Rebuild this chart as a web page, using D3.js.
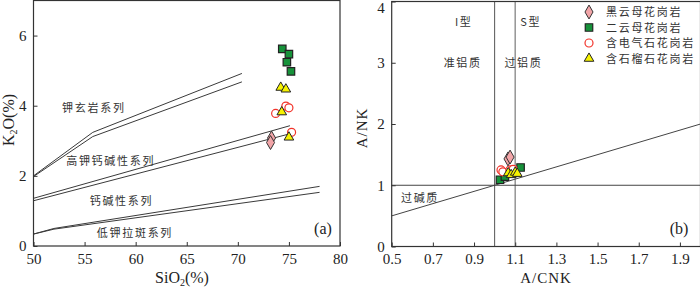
<!DOCTYPE html>
<html>
<head>
<meta charset="utf-8">
<script src="https://cdn.jsdelivr.net/npm/d3@7"></script>
<style>
  body { margin: 0; background: #fff; }
  svg text { font-family: "Liberation Serif", "DejaVu Serif", serif; fill: #222; }
  svg text.cn { font-family: "Noto Sans CJK SC", sans-serif; font-size: 11px; letter-spacing: 1.7px; fill: #333; }
</style>
</head>
<body>
<svg id="chart" width="700" height="287"></svg>
<script>
// ---- panel (a) data : SiO2 vs K2O ----
var aXTicks = [50, 55, 60, 65, 70, 75, 80];
var aYTicks = [0, 2, 4, 6];
// boundary lines, each a polyline [SiO2, K2O]
var aLines = [
  [[50, 2.0], [55.8, 3.24], [70.4, 4.92]],
  [[50, 1.98], [55.8, 3.12], [70.4, 4.68]],
  [[50, 1.36], [75.1, 3.43]],
  [[50, 1.29], [75.1, 3.2]],
  [[50, 0.34], [52, 0.5], [78, 1.7]],
  [[50, 0.34], [52, 0.48], [78, 1.53]]
];
var aSeriesLabels = [
  {text: "钾玄岩系列", x: 52.8, y: 3.83},
  {text: "高钾钙碱性系列", x: 53.2, y: 2.31},
  {text: "钙碱性系列", x: 55.5, y: 1.17},
  {text: "低钾拉斑系列", x: 56.2, y: 0.26}
];
var aBiotite = [[73.3, 3.08], [73.2, 2.95]];
var aTwoMica = [[74.35, 5.62], [75.0, 5.47], [74.8, 5.24], [75.2, 4.98]];
var aTourmaline = [[73.7, 3.78], [74.7, 3.99], [75.0, 3.94], [75.26, 3.24]];
var aGarnet = [[74.2, 4.52], [74.7, 4.47], [74.3, 3.82], [75.0, 3.1]];

// ---- panel (b) data : A/CNK vs A/NK ----
var bXTicks = [0.5, 0.7, 0.9, 1.1, 1.3, 1.5, 1.7, 1.9];
var bYTicks = [0, 1, 2, 3, 4];
var bBiotite = [[1.065, 1.43], [1.075, 1.46]];
var bTwoMica = [[1.026, 1.09], [1.05, 1.14], [1.09, 1.2], [1.126, 1.29]];
var bTourmaline = [[1.031, 1.25], [1.04, 1.22], [1.074, 1.25], [1.09, 1.26]];
var bGarnet = [[1.066, 1.2], [1.08, 1.17], [1.10, 1.21], [1.11, 1.19]];

var legendNames = ["黑云母花岗岩", "二云母花岗岩", "含电气石花岗岩", "含石榴石花岗岩"];

var svg = d3.select("#chart");

var symDiamond = d3.symbol().type(d3.symbolDiamond).size(56);
var symSquare = d3.symbol().type(d3.symbolSquare).size(56);
var symTriangle = d3.symbol().type(d3.symbolTriangle).size(40);

var styles = [
  {sym: symDiamond, fill: "#f2a5a8", stroke: "#333", w: 1},
  {sym: symSquare, fill: "#16923a", stroke: "#222", w: 1.2},
  {sym: null, fill: "#fff", stroke: "#f2332a", w: 1.2},
  {sym: symTriangle, fill: "#f6f200", stroke: "#222", w: 1}
];

function drawPoints(g, x, y, data, st) {
  var sel = g.append("g").selectAll("x").data(data).enter();
  if (st.sym) {
    sel.append("path")
      .attr("d", st.sym)
      .attr("transform", function(d) { return "translate(" + x(d[0]) + "," + y(d[1]) + ")"; })
      .attr("fill", st.fill).attr("stroke", st.stroke).attr("stroke-width", st.w);
  } else {
    sel.append("circle")
      .attr("cx", function(d) { return x(d[0]); })
      .attr("cy", function(d) { return y(d[1]); })
      .attr("r", 4)
      .attr("fill", st.fill).attr("stroke", st.stroke).attr("stroke-width", st.w);
  }
}

function frameAndAxes(g, x, y, xt, yt, fmtX) {
  var w = x.range()[1] - x.range()[0], h = y.range()[0] - y.range()[1];
  g.append("rect").attr("x", x.range()[0]).attr("y", y.range()[1])
    .attr("width", w).attr("height", h)
    .attr("fill", "none").attr("stroke", "#333").attr("stroke-width", 1.2);
  var xa = g.append("g").attr("transform", "translate(0," + y.range()[0] + ")")
    .call(d3.axisBottom(x).tickValues(xt).tickSizeInner(-4).tickSizeOuter(0).tickPadding(7).tickFormat(fmtX));
  var ya = g.append("g").attr("transform", "translate(" + x.range()[0] + ",0)")
    .call(d3.axisLeft(y).tickValues(yt).tickSizeInner(-4).tickSizeOuter(0).tickPadding(7).tickFormat(d3.format("d")));
  [xa, ya].forEach(function(a) {
    a.select(".domain").remove();
    a.selectAll("line").attr("stroke", "#333");
    a.selectAll("text").attr("font-size", 15).attr("font-family", "Liberation Serif").attr("fill", "#222");
  });
  return ya;
}

// ================= panel (a) =================
var ax = d3.scaleLinear().domain([50, 80]).range([33.5, 340]);
var ay = d3.scaleLinear().domain([0, 7]).range([246, 0.5]);
var ga = svg.append("g");

var line = d3.line();
ga.append("g").selectAll("path").data(aLines).enter().append("path")
  .attr("d", function(d) { return line(d.map(function(p) { return [ax(p[0]), ay(p[1])]; })); })
  .attr("fill", "none").attr("stroke", "#3a3a3a").attr("stroke-width", 1);

ga.selectAll("text.cn").data(aSeriesLabels).enter().append("text")
  .attr("class", "cn")
  .attr("x", function(d) { return ax(d.x); })
  .attr("y", function(d) { return ay(d.y); })
  .text(function(d) { return d.text; });

frameAndAxes(ga, ax, ay, aXTicks, aYTicks, d3.format("d"));

drawPoints(ga, ax, ay, aBiotite, styles[0]);
drawPoints(ga, ax, ay, aTourmaline, styles[2]);
drawPoints(ga, ax, ay, aGarnet, styles[3]);
drawPoints(ga, ax, ay, aTwoMica, styles[1]);

ga.append("text").attr("x", 323).attr("y", 234).attr("text-anchor", "middle")
  .attr("font-size", 16).text("(a)");

var xl = ga.append("text").attr("x", 182).attr("y", 283).attr("text-anchor", "middle").attr("font-size", 16);
xl.append("tspan").text("SiO");
xl.append("tspan").attr("font-size", 10).attr("dy", 3).text("2");
xl.append("tspan").attr("dy", -3).text("(%)");

var yl = ga.append("text").attr("transform", "translate(14,120) rotate(-90)")
  .attr("text-anchor", "middle").attr("font-size", 16);
yl.append("tspan").text("K");
yl.append("tspan").attr("font-size", 10).attr("dy", 3).text("2");
yl.append("tspan").attr("dy", -3).text("O(%)");

// ================= panel (b) =================
var bx = d3.scaleLinear().domain([0.5, 2.0]).range([391.7, 700.5]);
var by = d3.scaleLinear().domain([0, 4]).range([246.5, 1.5]);
var gb = svg.append("g");

gb.append("line").attr("x1", bx(1.0)).attr("x2", bx(1.0)).attr("y1", by(0)).attr("y2", by(4))
  .attr("stroke", "#555").attr("stroke-width", 1);
gb.append("line").attr("x1", bx(1.1)).attr("x2", bx(1.1)).attr("y1", by(0)).attr("y2", by(4))
  .attr("stroke", "#999").attr("stroke-width", 1.6);
gb.append("line").attr("x1", bx(0.5)).attr("x2", bx(2.0)).attr("y1", by(1)).attr("y2", by(1))
  .attr("stroke", "#444").attr("stroke-width", 1);
gb.append("line").attr("x1", bx(0.5)).attr("x2", bx(2.0)).attr("y1", by(0.5)).attr("y2", by(2.0))
  .attr("stroke", "#444").attr("stroke-width", 1);

var bLabels = [
  {text: "I型", x: 0.85, y: 3.6},
  {text: "S型", x: 1.175, y: 3.6},
  {text: "准铝质", x: 0.845, y: 2.93},
  {text: "过铝质", x: 1.14, y: 2.93},
  {text: "过碱质", x: 0.545, y: 0.73}
];
gb.selectAll("text.lb").data(bLabels).enter().append("text")
  .attr("class", "cn")
  .attr("text-anchor", function(d, i) { return i < 4 ? "middle" : "start"; })
  .attr("x", function(d) { return bx(d.x); })
  .attr("y", function(d) { return by(d.y); })
  .text(function(d) { return d.text; });

var byAxis = frameAndAxes(gb, bx, by, bXTicks, bYTicks, d3.format(".1f"));
// top label "4" sits just inside the picture, as in the original
byAxis.selectAll(".tick").filter(function(d) { return d === 4; }).select("text").attr("dy", "0.75em");

drawPoints(gb, bx, by, bTwoMica, styles[1]);
drawPoints(gb, bx, by, bTourmaline, styles[2]);
drawPoints(gb, bx, by, bGarnet, styles[3]);
drawPoints(gb, bx, by, bBiotite, styles[0]);

gb.append("text").attr("x", 679).attr("y", 234).attr("text-anchor", "middle")
  .attr("font-size", 16).text("(b)");

gb.append("text").attr("x", 546).attr("y", 283).attr("text-anchor", "middle")
  .attr("font-size", 15).attr("letter-spacing", 1).text("A/CNK");
gb.append("text").attr("transform", "translate(367,128) rotate(-90)")
  .attr("text-anchor", "middle").attr("font-size", 15).attr("letter-spacing", 1).text("A/NK");

// legend
var legY = [12, 27.5, 43, 58.5];
var leg = gb.append("g");
legendNames.forEach(function(name, i) {
  var st = styles[i];
  drawPoints(leg, function() { return 589; }, function() { return legY[i]; }, [[0, 0]], st);
  leg.append("text").attr("class", "cn").attr("x", 606).attr("y", legY[i] + 4)
    .attr("letter-spacing", 2.2).text(name);
});
</script>
</body>
</html>
